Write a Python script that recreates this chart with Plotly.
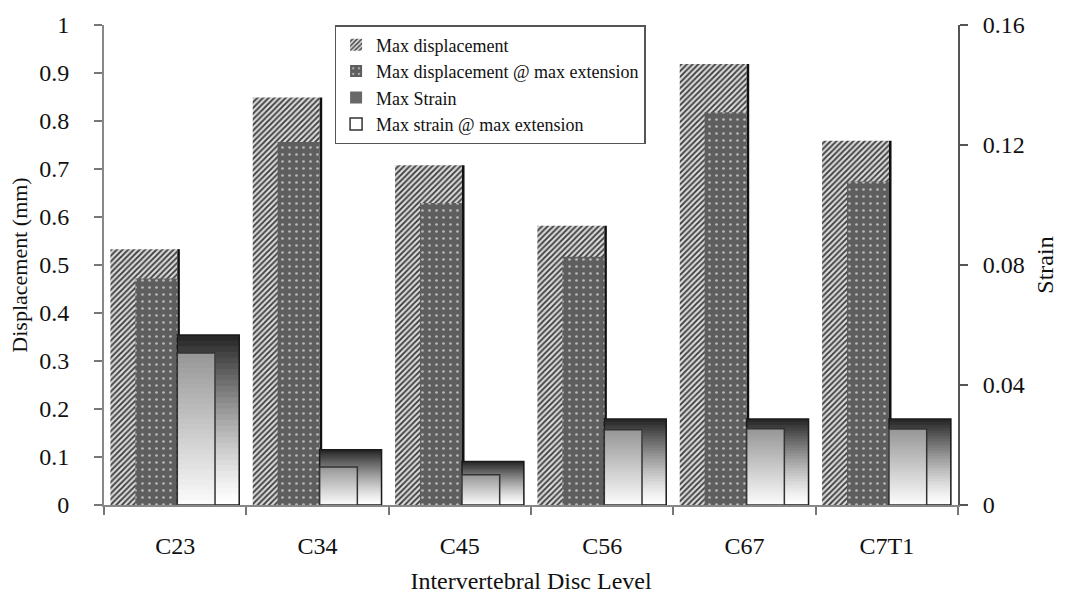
import plotly.graph_objects as go

levels = ["C23", "C34", "C45", "C56", "C67", "C7T1"]
max_disp = [0.533, 0.849, 0.708, 0.582, 0.919, 0.759]
max_disp_ext = [0.472, 0.756, 0.629, 0.517, 0.818, 0.674]
max_strain = [0.0567, 0.0184, 0.0145, 0.0287, 0.0287, 0.0287]
max_strain_ext = [0.0507, 0.0127, 0.0101, 0.0251, 0.0254, 0.0253]

FONT = "Liberation Serif"
N = 30

fig = go.Figure()

# Max displacement (hatched)
fig.add_trace(go.Bar(
    x=levels, y=max_disp, name="Max displacement",
    offset=-0.455, width=0.47,
    marker=dict(color="#d8d8d8", line=dict(width=0),
                pattern=dict(shape="/", fgcolor="#3a3a3a", bgcolor="#d8d8d8",
                             size=4, solidity=0.45, fillmode="replace")),
    legendrank=1,
))
# shadow on the right edge of the hatched bars
fig.add_trace(go.Bar(
    x=levels, y=max_disp, offset=0.015, width=0.018,
    marker=dict(color="#111111", line=dict(width=0)),
    showlegend=False, hoverinfo="skip",
))
# Max displacement @ max extension (dark dotted)
fig.add_trace(go.Bar(
    x=levels, y=max_disp_ext, name="Max displacement @ max extension",
    offset=-0.28, width=0.295,
    marker=dict(color="#5e5e5e", line=dict(width=0),
                pattern=dict(shape=".", fgcolor="#b8b8b8", bgcolor="#5e5e5e",
                             size=7, solidity=0.12, fillmode="replace")),
    legendrank=2,
))


def gray(v):
    v = int(round(max(0, min(255, v))))
    return f"rgb({v},{v},{v})"


# Max strain: gradient dark (top) -> white (bottom); each layer covers from its
# base up to the full value so later layers overlap earlier ones without gaps
for k in range(N):
    t = (k + 0.5) / N
    g = 255 - (255 - 35) * (t ** 1.3)
    fig.add_trace(go.Bar(
        x=levels, y=[v * (N - k) / N for v in max_strain],
        base=[v * k / N for v in max_strain],
        offset=0.015, width=0.435, yaxis="y2",
        marker=dict(color=gray(g), line=dict(width=0)),
        showlegend=(k == int(N * 0.75)), name="Max Strain", legendrank=3,
        hoverinfo="skip",
    ))
fig.add_trace(go.Bar(
    x=levels, y=max_strain, offset=0.015, width=0.435, yaxis="y2",
    marker=dict(color="rgba(0,0,0,0)", line=dict(width=1.5, color="#1a1a1a")),
    showlegend=False, hoverinfo="skip",
))

# Max strain @ max extension: gradient gray (top) -> white (bottom)
for k in range(N):
    t = (k + 0.5) / N
    g = 252 - (252 - 150) * t
    fig.add_trace(go.Bar(
        x=levels, y=[v * (N - k) / N for v in max_strain_ext],
        base=[v * k / N for v in max_strain_ext],
        offset=0.015, width=0.265, yaxis="y2",
        marker=dict(color=gray(g), line=dict(width=0)),
        showlegend=False, hoverinfo="skip",
    ))
fig.add_trace(go.Bar(
    x=levels, y=max_strain_ext, offset=0.015, width=0.265, yaxis="y2",
    name="Max strain @ max extension",
    marker=dict(color="rgba(0,0,0,0)", line=dict(width=1.5, color="#333333")),
    legendrank=4,
))

fig.update_layout(
    width=1068, height=606,
    margin=dict(l=104, r=110, t=20, b=101),
    paper_bgcolor="white", plot_bgcolor="white",
    barmode="overlay",
    font=dict(family=FONT, size=24, color="#111111"),
    showlegend=True,
    legend=dict(
        x=0.27, y=1.0, xanchor="left", yanchor="top",
        bgcolor="white", bordercolor="#555555", borderwidth=1.5,
        font=dict(family=FONT, size=18, color="#111111"),
        tracegroupgap=0, itemwidth=30,
    ),
    xaxis=dict(
        type="category", range=[-0.5, 5.5], tickson="boundaries",
        ticks="outside", ticklen=8, tickcolor="#777777", tickwidth=1.5,
        showline=True, linecolor="#888888", linewidth=2,
        showgrid=False, zeroline=False, ticklabelstandoff=18,
        tickfont=dict(family=FONT, size=24),
        title=dict(text="Intervertebral Disc Level", standoff=14,
                   font=dict(family=FONT, size=24)),
    ),
    yaxis=dict(
        range=[0, 1], dtick=0.1, ticks="outside", ticklen=8,
        tickcolor="#777777", tickwidth=1.5,
        showline=True, linecolor="#888888", linewidth=2,
        showgrid=False, zeroline=False, ticklabelstandoff=20,
        tickfont=dict(family=FONT, size=24),
        title=dict(text="Displacement (mm)", standoff=6,
                   font=dict(family=FONT, size=22)),
    ),
    yaxis2=dict(
        overlaying="y", side="right", range=[0, 0.16],
        tickvals=[0, 0.04, 0.08, 0.12, 0.16],
        ticktext=["0", "0.04", "0.08", "0.12", "0.16"],
        ticks="outside", ticklen=8, tickcolor="#555555", tickwidth=1.5,
        showline=True, linecolor="#555555", linewidth=2,
        showgrid=False, zeroline=False, ticklabelstandoff=10,
        tickfont=dict(family=FONT, size=24),
        title=dict(text="Strain", standoff=12, font=dict(family=FONT, size=24)),
    ),
)

fig.write_html("out.html")
